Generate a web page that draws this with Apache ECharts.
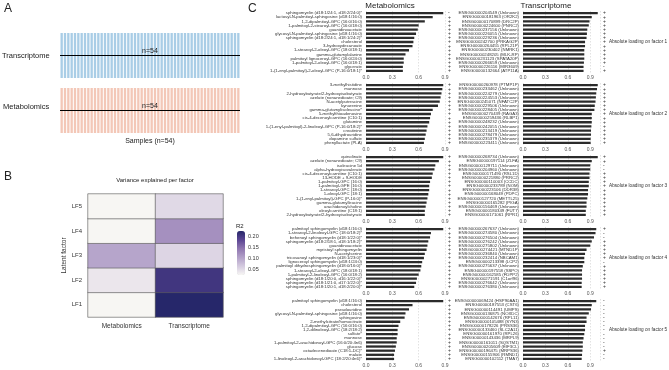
<!DOCTYPE html>
<html>
<head>
<meta charset="utf-8">
<script src="https://cdn.jsdelivr.net/npm/echarts@6/dist/echarts.min.js"></script>
<style>
html, body { margin: 0; padding: 0; background: #fff; }
#chart { width: 669px; height: 370px; }
</style>
</head>
<body>
<div id="chart"></div>
<script>
// ---- panel A: samples per omics layer
const samples = Array.from({ length: 54 }, (_, i) => 'S' + (i + 1))
const transcriptomePresent = samples.map(() => 1)
const metabolomicsPresent = samples.map(() => 1)

// ---- panel B: variance explained per factor
const omics = ['Metabolomics', 'Transcriptome']
const factors = ['LF1', 'LF2', 'LF3', 'LF4', 'LF5']
const r2Metabolomics = [0.026, 0.04, 0.1, 0.026, 0.026]
const r2Transcriptome = [0.225, 0.205, 0.055, 0.12, 0.052]
const r2Ticks = [0.05, 0.1, 0.15, 0.2]

// ---- panel C: top loadings per factor
const metLabels = [
  ['sphingomyelin (d18:1/24:1, d18:2/24:0)*', 'lactosyl-N-palmitoyl-sphingosine (d18:1/16:0)', '1,2-dipalmitoyl-GPC (16:0/16:0)', '1-palmitoyl-2-stearoyl-GPC (16:0/18:0)', 'guanidinoacetate', 'glycosyl-N-palmitoyl-sphingosine (d18:1/16:0)', 'sphingomyelin (d18:2/24:1, d18:1/24:2)*', 'cholesterol', '3-hydroxydecanoate', '1-stearoyl-2-oleoyl-GPC (18:0/18:1)', 'gamma-glutamylalanine', 'palmitoyl lignoceroyl-GPC (16:0/24:0)', '1-palmitoyl-2-oleoyl-GPC (16:0/18:1)', 'glycerate', '1-(1-enyl-palmitoyl)-2-oleoyl-GPC (P-16:0/18:1)*'],
  ['3-methylhistidine', 'mannose', '2-hydroxybutyrate/2-hydroxyisobutyrate', 'azelate (nonanedioate; C9)', 'N-acetylputrescine', 'kynurenine', 'gamma-glutamylisoleucine*', '5-methylthioadenosine', 'cis-4-decenoylcarnitine (C10:1)', 'glutamine', '1-(1-enyl-palmitoyl)-2-linoleoyl-GPC (P-16:0/18:2)*', 'creatinine', '5,6-dihydrouridine', 'dopamine sulfate', 'phenyllactate (PLA)'],
  ['quinolinate', 'azelate (nonanedioate; C9)', 'isoleucine 5d', 'alpha-hydroxyisovalerate', 'cis-4-decenoylcarnitine (C10:1)', '13-HODE + 9-HODE', '1-palmitoyl-GPC (16:0)', '1-palmitoyl-GPE (16:0)', '1-stearoyl-GPC (18:0)', '1-oleoyl-GPC (18:1)', '1-(1-enyl-palmitoyl)-GPC (P-16:0)*', 'gamma-glutamylleucine', 'arachidonoylcholine', 'oleoylcarnitine (C18:1)', '2-hydroxybutyrate/2-hydroxyisobutyrate'],
  ['palmitoyl sphingomyelin (d18:1/16:0)', '1-stearoyl-2-linoleoyl-GPC (18:0/18:2)*', 'behenoyl sphingomyelin (d18:1/22:0)*', 'sphingomyelin (d18:2/18:1, d18:1/18:2)*', 'guanidinoacetate', 'myristoyl sphingomyelin', 'N-acetylserine', 'tricosanoyl sphingomyelin (d18:1/23:0)*', 'lignoceroyl sphingomyelin (d18:1/24:0)', 'palmitoyl dihydrosphingomyelin (d18:0/16:0)*', '1-stearoyl-2-oleoyl-GPC (18:0/18:1)', '1-palmitoyl-2-linoleoyl-GPC (16:0/18:2)', 'sphingomyelin (d18:1/20:0, d16:1/22:0)*', 'sphingomyelin (d18:1/21:0, d17:1/22:0)*', 'sphingomyelin (d18:1/20:1, d18:2/20:0)*'],
  ['palmitoyl sphingomyelin (d18:1/16:0)', 'cholesterol', 'pseudouridine', 'glycosyl-N-palmitoyl-sphingosine (d18:1/16:0)', 'sphingosine', '2-methylcitrate/homocitrate', '1,2-dipalmitoyl-GPC (16:0/16:0)', '1,2-dilinoleoyl-GPC (18:2/18:2)', 'sulfate*', 'mannose', '1-palmitoyl-2-arachidonoyl-GPC (16:0/20:4n6)', 'glucose', 'octadecenedioate (C18:1-DC)*', 'malate', '1-linoleoyl-2-arachidonoyl-GPC (18:2/20:4n6)*']
]
const metValues = [
  [0.88, 0.76, 0.67, 0.6, 0.59, 0.57, 0.55, 0.54, 0.53, 0.49, 0.45, 0.43, 0.43, 0.42, 0.42],
  [0.88, 0.87, 0.86, 0.85, 0.84, 0.82, 0.76, 0.74, 0.73, 0.72, 0.7, 0.69, 0.68, 0.67, 0.66],
  [0.88, 0.83, 0.79, 0.78, 0.76, 0.75, 0.73, 0.72, 0.72, 0.71, 0.7, 0.69, 0.68, 0.67, 0.67],
  [0.88, 0.74, 0.73, 0.71, 0.7, 0.69, 0.67, 0.66, 0.64, 0.63, 0.62, 0.6, 0.58, 0.57, 0.55],
  [0.88, 0.53, 0.49, 0.45, 0.44, 0.39, 0.37, 0.36, 0.36, 0.35, 0.35, 0.34, 0.33, 0.32, 0.32]
]
const metSigns = [
  ['-', '+', '+', '+', '+', '+', '+', '+', '+', '+', '+', '+', '+', '+', '+'],
  ['+', '+', '+', '+', '+', '+', '+', '+', '+', '+', '+', '+', '+', '+', '+'],
  ['+', '+', '+', '+', '+', '+', '+', '+', '+', '+', '+', '+', '+', '+', '+'],
  ['+', '+', '+', '+', '+', '+', '+', '+', '+', '+', '+', '+', '+', '+', '+'],
  ['+', '+', '+', '+', '+', '+', '+', '+', '+', '+', '+', '+', '+', '+', '+']
]
const trLabels = [
  ['ENSG00000204549 (Unknown)', 'ENSG00000181963 (OR2K2)', 'ENSG00000170899 (DRC2P)', 'ENSG00000224600 (PNRC2)', 'ENSG00000237156 (Unknown)', 'ENSG00000226055 (Unknown)', 'ENSG00000229236 (Unknown)', 'ENSG00000242700 (PRKAG2P)', 'ENSG00000264455 (RPL21P)', 'ENSG00000230402 (NMRK1)', 'ENSG00000248205 (MLK-RP)', 'ENSG00000231123 (SPATA20P)', 'ENSG00000266659 (Unknown)', 'ENSG00000226116 (MIR3609)', 'ENSG00000132664 (ATP11A)'],
  ['ENSG00000260978 (PTMP1P)', 'ENSG00000233462 (Unknown)', 'ENSG00000224279 (Unknown)', 'ENSG00000224553 (Unknown)', 'ENSG00000245071 (NFATC2P)', 'ENSG00000229506 (Unknown)', 'ENSG00000228405 (Unknown)', 'ENSG00000270439 (RAGA3)', 'ENSG00000259436 (RLBP1)', 'ENSG00000248232 (Unknown)', 'ENSG00000242055 (Unknown)', 'ENSG00000213419 (Unknown)', 'ENSG00000278479 (Unknown)', 'ENSG00000235379 (Unknown)', 'ENSG00000223411 (Unknown)'],
  ['ENSG00000268734 (Unknown)', 'ENSG00000197114 (ZLFA)', 'ENSG00000129711 (Unknown)', 'ENSG00000204960 (Unknown)', 'ENSG00000171490 (RSL1D)', 'ENSG00000221880 (PRRC2)', 'ENSG00000110003 (CCDC)', 'ENSG00000233789 (NOM)', 'ENSG00000223106 (DDR38)', 'ENSG00000168049 (PDPC)', 'ENSG00000127720 (METTL25)', 'ENSG00000165282 (PIGA)', 'ENSG00000156469 (Unknown)', 'ENSG00000180349 (FUT7)', 'ENSG00000171061 (RPR1)'],
  ['ENSG00000267637 (Unknown)', 'ENSG00000274580 (Unknown)', 'ENSG00000276504 (Unknown)', 'ENSG00000276242 (Unknown)', 'ENSG00000275802 (Unknown)', 'ENSG00000274421 (MTND1P)', 'ENSG00000236840 (Unknown)', 'ENSG00000232414 (NBCAM1)', 'ENSG00000213398 (LCP2)', 'ENSG00000275637 (Unknown)', 'ENSG00000197558 (SSPO)', 'ENSG00000162585 (FDPP2)', 'ENSG00000271591 (C1orf96)', 'ENSG00000276642 (Unknown)', 'ENSG00000276380 (Unknown)'],
  ['ENSG00000069424 (HSP90AA1)', 'ENSG00000187553 (CST6)', 'ENSG00000114491 (UMPS)', 'ENSG00000136875 (NOXDC)', 'ENSG00000142676 (RPL11)', 'ENSG00000105488 (SYN3)', 'ENSG00000178226 (PRSS36)', 'ENSG00000133460 (SLC2A11)', 'ENSG00000161970 (RPL26)', 'ENSG00000143436 (MRPL9)', 'ENSG00000161011 (SQSTM1)', 'ENSG00000205609 (EIF3CL)', 'ENSG00000196475 (MRPS36)', 'ENSG00000155906 (RMND1)', 'ENSG00000102112 (TMA7)']
]
const trValues = [
  [1.0, 0.92, 0.89, 0.88, 0.86, 0.855, 0.85, 0.83, 0.83, 0.82, 0.82, 0.82, 0.815, 0.81, 0.81],
  [1.0, 0.99, 0.98, 0.975, 0.97, 0.96, 0.955, 0.92, 0.92, 0.92, 0.915, 0.91, 0.91, 0.905, 0.905],
  [1.0, 0.92, 0.9, 0.9, 0.89, 0.89, 0.88, 0.88, 0.87, 0.87, 0.86, 0.85, 0.85, 0.84, 0.84],
  [0.98, 0.97, 0.95, 0.92, 0.9, 0.85, 0.83, 0.82, 0.82, 0.8, 0.79, 0.79, 0.79, 0.785, 0.785],
  [0.98, 0.92, 0.91, 0.88, 0.85, 0.85, 0.83, 0.83, 0.82, 0.81, 0.8, 0.8, 0.795, 0.79, 0.785]
]
const trSigns = [
  ['+', '+', '+', '+', '+', '+', '+', '+', '+', '+', '+', '+', '+', '-', '+'],
  ['+', '+', '+', '+', '+', '+', '+', '+', '+', '+', '+', '+', '+', '+', '+'],
  ['+', '+', '-', '-', '+', '+', '+', '+', '+', '+', '+', '+', '+', '+', '+'],
  ['+', '-', '-', '+', '+', '+', '+', '+', '-', '+', '+', '+', '+', '+', '+'],
  ['-', '-', '-', '-', '-', '-', '-', '-', '-', '-', '-', '-', '+', '-', '-']
]

const FONT = 'Liberation Sans'
const purples = ['#f8f7f4', '#d4cadf', '#b2a0c8', '#8f76b0', '#5b4593', '#26276a']
const panelTops = [11, 83, 155, 227, 299]
const panelH = 62

const chart = echarts.init(document.getElementById('chart'))

const grids = []
const xAxes = []
const yAxes = []
const series = []

// panel A: one striped block per omics layer
const stripeBlocks = [
  { top: 33, color: '#a9cde6', values: transcriptomePresent },
  { top: 88, color: '#f3c7b7', values: metabolomicsPresent }
]
stripeBlocks.forEach((b) => {
  const gi = grids.length
  grids.push({ left: 60, top: b.top, width: 180, height: 45 })
  xAxes.push({ gridIndex: gi, type: 'category', data: samples, show: false })
  yAxes.push({ gridIndex: gi, type: 'value', min: 0, max: 1, show: false })
  series.push({
    type: 'bar', xAxisIndex: xAxes.length - 1, yAxisIndex: yAxes.length - 1, data: b.values,
    barCategoryGap: '30%', itemStyle: { color: b.color }, silent: true,
    markLine: {
      symbol: 'none', silent: true,
      lineStyle: { color: '#000', width: 1, type: 'solid' },
      label: { formatter: 'n=54', position: 'middle', fontFamily: FONT, fontSize: 7, color: '#222', distance: 1 },
      data: [{ yAxis: 0.5 }]
    }
  })
})

// panel B heatmap
const hmGrid = grids.length
grids.push({ left: 88, top: 194, width: 135, height: 123 })
xAxes.push({
  gridIndex: hmGrid, type: 'category', data: omics,
  axisLine: { show: false }, axisTick: { show: false },
  axisLabel: { fontFamily: FONT, fontSize: 6.5, color: '#333', margin: 6 }
})
yAxes.push({
  gridIndex: hmGrid, type: 'category', data: factors,
  name: 'Latent factor', nameLocation: 'middle', nameGap: 20, nameRotate: 90,
  nameTextStyle: { fontFamily: FONT, fontSize: 6.5, color: '#333' },
  axisLine: { show: false }, axisTick: { show: false },
  axisLabel: { fontFamily: FONT, fontSize: 6, color: '#333', margin: 6 }
})
const hmData = []
factors.forEach((f, i) => {
  hmData.push([0, i, r2Metabolomics[i]])
  hmData.push([1, i, r2Transcriptome[i]])
})
const hmSeries = series.length
series.push({
  type: 'heatmap', xAxisIndex: xAxes.length - 1, yAxisIndex: yAxes.length - 1, data: hmData,
  itemStyle: { borderColor: '#555', borderWidth: 0.6 }, silent: true
})

// tick labels for the colour bar
const cbGrid = grids.length
grids.push({ left: 237, top: 231, width: 8, height: 44 })
xAxes.push({ gridIndex: cbGrid, type: 'value', show: false })
yAxes.push({
  gridIndex: cbGrid, type: 'value', position: 'right', min: 0.025, max: 0.225,
  axisLine: { show: false }, axisTick: { show: false }, splitLine: { show: false },
  axisLabel: { customValues: r2Ticks, formatter: (v) => v.toFixed(2), fontFamily: FONT, fontSize: 5.5, color: '#333', margin: 3 }
})

// panel C: one small bar chart per factor and omics layer
function addLoadingPanel(labels, values, signs, top, left, width, max) {
  const gi = grids.length
  grids.push({ left: left, top: top, width: width, height: panelH })
  const xi = xAxes.length
  xAxes.push({
    gridIndex: gi, type: 'value', min: 0, max: max, interval: 0.3,
    axisLine: { show: false }, axisTick: { show: false },
    axisLabel: { fontFamily: FONT, fontSize: 5, color: '#555', margin: 2, showMaxLabel: max <= 0.9, formatter: (v) => v.toFixed(1) },
    splitLine: { show: true, lineStyle: { color: '#c4c4c4', width: 0.5, type: [1.5, 1.5] } }
  })
  const yi = yAxes.length
  yAxes.push({
    gridIndex: gi, type: 'category', data: labels, inverse: true,
    axisLine: { show: false }, axisTick: { show: false },
    axisLabel: { fontFamily: FONT, fontSize: 4.3, color: '#333', margin: 4, interval: 0 }
  })
  // signs of the loadings, on a right-hand axis
  yAxes.push({
    gridIndex: gi, type: 'category', data: labels, inverse: true, position: 'right',
    axisLine: { show: false }, axisTick: { show: false },
    axisLabel: { fontFamily: FONT, fontSize: 5, color: '#333', margin: 3, interval: 0, formatter: (v, i) => signs[i] }
  })
  series.push({
    type: 'bar', xAxisIndex: xi, yAxisIndex: yi, data: values,
    barWidth: 2.3, itemStyle: { color: '#2b2b2b' }, silent: true
  })
}

panelTops.forEach((top, k) => {
  addLoadingPanel(metLabels[k], metValues[k], metSigns[k], top, 366, 79, 0.9)
  addLoadingPanel(trLabels[k], trValues[k], trSigns[k], top, 523, 77, 1.03)
})

const graphics = [
  { type: 'text', left: 4, top: 3, style: { text: 'A', fontFamily: FONT, fontSize: 12, fill: '#222' } },
  { type: 'text', left: 4, top: 171, style: { text: 'B', fontFamily: FONT, fontSize: 12, fill: '#222' } },
  { type: 'text', left: 248, top: 3, style: { text: 'C', fontFamily: FONT, fontSize: 12, fill: '#222' } },
  { type: 'text', left: 2, top: 52, style: { text: 'Transcriptome', fontFamily: FONT, fontSize: 7.5, fill: '#222' } },
  { type: 'text', left: 3, top: 103, style: { text: 'Metabolomics', fontFamily: FONT, fontSize: 7.5, fill: '#222' } },
  { type: 'text', x: 150, y: 141, style: { text: 'Samples (n=54)', fontFamily: FONT, fontSize: 7, fill: '#222', align: 'center', verticalAlign: 'middle' } },
  { type: 'text', x: 155, y: 180, style: { text: 'Variance explained per factor', fontFamily: FONT, fontSize: 6, fill: '#222', align: 'center', verticalAlign: 'middle' } },
  { type: 'text', x: 236, y: 226, style: { text: 'R2', fontFamily: FONT, fontSize: 6, fill: '#222', verticalAlign: 'middle' } },
  { type: 'text', x: 390, y: 6, style: { text: 'Metabolomics', fontFamily: FONT, fontSize: 8, fill: '#222', align: 'center', verticalAlign: 'middle' } },
  { type: 'text', x: 546, y: 6, style: { text: 'Transcriptome', fontFamily: FONT, fontSize: 8, fill: '#222', align: 'center', verticalAlign: 'middle' } }
]
panelTops.forEach((top, k) => {
  graphics.push({ type: 'text', x: 609, y: top + panelH / 2, style: { text: 'Absolute loading on factor ' + (k + 1), fontFamily: FONT, fontSize: 4.7, fill: '#333', verticalAlign: 'middle' } })
})

chart.setOption({
  animation: false,
  backgroundColor: '#fff',
  grid: grids,
  xAxis: xAxes,
  yAxis: yAxes,
  visualMap: {
    type: 'continuous', seriesIndex: hmSeries, min: 0.025, max: 0.225,
    left: 237, top: 231, itemWidth: 8, itemHeight: 44, padding: 0,
    calculable: false, text: null, showLabel: false,
    inRange: { color: purples }
  },
  graphic: graphics,
  series: series
})
</script>
</body>
</html>
